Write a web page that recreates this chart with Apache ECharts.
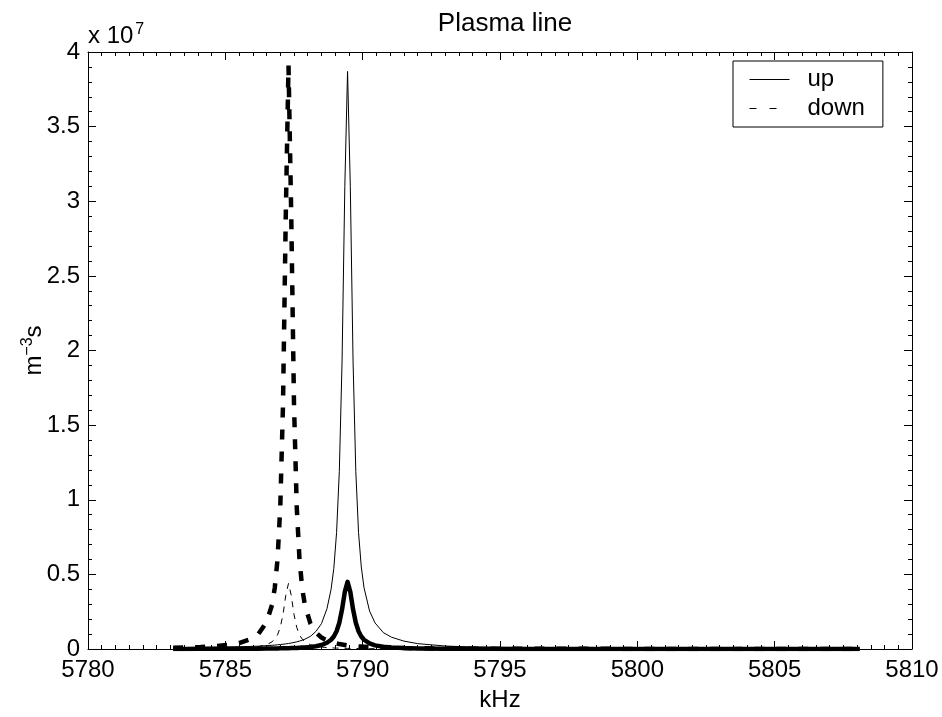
<!DOCTYPE html>
<html>
<head>
<meta charset="utf-8">
<script src="https://cdn.jsdelivr.net/npm/echarts@6/dist/echarts.min.js"></script>
<style>
html,body{margin:0;padding:0;background:#fff;}
#chart{width:942px;height:717px;}
</style>
</head>
<body>
<div id="chart"></div>
<script>
// frequency grid (kHz)
const freq = [5783.1,5783.6,5784.1,5784.6,5785.1,5785.5,5785.9,5786.2,5786.5,5786.7,
  5786.8,5786.9,5787.0,5787.1,5787.2,5787.3,5787.4,5787.5,5787.6,5787.7,
  5787.8,5787.9,5788.1,5788.3,5788.5,5788.7,5788.85,5788.95,5789.05,5789.15,
  5789.25,5789.35,5789.45,5789.55,5789.65,5789.75,5789.85,5789.95,5790.05,5790.25,
  5790.45,5790.75,5791.05,5791.5,5792.0,5793.0,5794.0,5796.0,5798.0,5800.0,
  5803.0,5806.0,5808.1];

// values in units of 1e7 m^-3 s
const upThin = [0.008,0.009,0.010,0.011,0.013,0.015,0.017,0.019,0.022,0.025,
  0.026,0.028,0.030,0.032,0.034,0.037,0.040,0.044,0.048,0.053,
  0.059,0.066,0.085,0.118,0.17,0.27,0.40,0.54,0.78,1.19,
  1.93,3.10,3.87,3.10,1.93,1.19,0.78,0.55,0.41,0.255,
  0.175,0.11,0.079,0.053,0.036,0.020,0.013,0.007,0.004,0.003,
  0.002,0.0015,0.001];

const downThin = [0.0011,0.0014,0.0019,0.0027,0.004,0.0059,0.0097,0.0155,0.028,0.048,
  0.066,0.095,0.145,0.231,0.359,0.44,0.359,0.231,0.145,0.095,
  0.066,0.048,0.028,0.0186,0.0131,0.0097,0.0079,0.007,0.0062,0.0056,
  0.005,0.0046,0.0042,0.0038,0.0035,0.0032,0.003,0.0028,0.0026,0.0022,
  0.0019,0.0016,0.0014,0.0011,0.0009,0.0006,0.0004,0.0003,0.0002,0.0002,
  0.0001,0.0001,0.0001];

const downThick = [0.008,0.010,0.013,0.018,0.028,0.040,0.065,0.100,0.180,0.295,
  0.41,0.60,0.95,1.64,2.90,3.91,2.90,1.64,0.95,0.60,
  0.405,0.29,0.17,0.11,0.077,0.057,0.047,0.041,0.037,0.033,
  0.030,0.027,0.024,0.022,0.020,0.019,0.017,0.016,0.015,0.013,
  0.011,0.0095,0.008,0.0064,0.0051,0.0035,0.0025,0.0015,0.001,0.0007,
  0.0005,0.0003,0.0003];

const upThick = [0.0006,0.0008,0.0009,0.0011,0.0014,0.0017,0.002,0.0024,0.003,0.0034,
  0.0037,0.004,0.0043,0.0046,0.0051,0.0055,0.0061,0.0067,0.0074,0.0083,
  0.0093,0.0105,0.0138,0.0188,0.027,0.042,0.062,0.084,0.119,0.176,
  0.266,0.383,0.45,0.383,0.266,0.176,0.119,0.084,0.062,0.037,
  0.0245,0.0149,0.0099,0.0061,0.004,0.002,0.0013,0.0006,0.0004,0.0002,
  0.0001,0.0001,0.0001];

const legendNames = ['up', 'down'];
const titleText = 'Plasma line';
const xName = 'kHz';
const yScaleText = '{a|x 10}{s|7}';
const yNameText = '{a|m}{s|\u22123}{a|s}';

const FONT = '"Liberation Sans", Arial, Helvetica, sans-serif';
const FS = 24;
const pairs = arr => freq.map((f, i) => [f, arr[i]]);

const chart = echarts.init(document.getElementById('chart'), null, {renderer: 'canvas'});

const axisCommon = {
  axisLine: {show: true, onZero: false, lineStyle: {color: '#000', width: 1}},
  axisTick: {show: true, inside: true, length: 8, lineStyle: {color: '#000', width: 1}},
  splitLine: {show: false}
};

const option = {
  animation: false,
  backgroundColor: '#fff',
  title: {
    text: titleText, left: 500, top: 6, textAlign: 'center',
    textStyle: {fontSize: 26, fontWeight: 'normal', color: '#000', fontFamily: FONT}
  },
  grid: {left: 88, right: 30, top: 52, bottom: 60, show: false},
  legend: {
    data: [
      {name: legendNames[0], lineStyle: {type: 'solid', width: 1}},
      {name: legendNames[1], lineStyle: {type: [7, 13], width: 1}}
    ],
    orient: 'vertical', left: 733, top: 61,
    padding: [6, 18, 6, 16], itemGap: 4,
    itemWidth: 40, itemHeight: 14,
    borderColor: '#000', borderWidth: 1, borderRadius: 0,
    backgroundColor: '#fff',
    itemStyle: {opacity: 0, borderWidth: 0},
    lineStyle: {width: 1},
    textStyle: {fontSize: FS, color: '#000', fontFamily: FONT, padding: [0, 0, 0, 13], lineHeight: 25}
  },
  xAxis: [
    Object.assign({}, axisCommon, {
      type: 'value', min: 5780, max: 5810, interval: 5, position: 'bottom',
      minorTick: {show: true, splitNumber: 10, length: 4, lineStyle: {color: '#000', width: 1}},
      axisLabel: {color: '#000', fontSize: FS, fontFamily: FONT, margin: 9, formatter: v => String(v)},
      name: xName, nameLocation: 'middle', nameGap: 39,
      nameTextStyle: {color: '#000', fontSize: FS, fontFamily: FONT}
    }),
    Object.assign({}, axisCommon, {
      type: 'value', min: 5780, max: 5810, interval: 5, position: 'top',
      minorTick: {show: true, splitNumber: 10, length: 4, lineStyle: {color: '#000', width: 1}},
      axisLabel: {show: false}
    })
  ],
  yAxis: [
    Object.assign({}, axisCommon, {
      type: 'value', min: 0, max: 4, interval: 0.5, position: 'left',
      minorTick: {show: true, splitNumber: 5, length: 4, lineStyle: {color: '#000', width: 1}},
      axisLabel: {color: '#000', fontSize: FS, fontFamily: FONT, margin: 8},
      name: yNameText, nameLocation: 'middle', nameGap: 40, nameRotate: 90,
      nameMoveOverlap: false,
      nameTextStyle: {
        color: '#000', fontFamily: FONT,
        rich: {
          a: {fontSize: FS, fontFamily: FONT, color: '#000'},
          s: {fontSize: 16, fontFamily: FONT, color: '#000', verticalAlign: 'top', padding: [0, 0, 12, 0]}
        }
      }
    }),
    Object.assign({}, axisCommon, {
      type: 'value', min: 0, max: 4, interval: 0.5, position: 'right',
      minorTick: {show: true, splitNumber: 5, length: 4, lineStyle: {color: '#000', width: 1}},
      axisLabel: {show: false}
    })
  ],
  graphic: [{
    type: 'text', left: 88, top: 22, silent: true,
    style: {
      text: yScaleText,
      rich: {
        a: {fontSize: FS, fontFamily: FONT, fill: '#000'},
        s: {fontSize: 16, fontFamily: FONT, fill: '#000', verticalAlign: 'top', padding: [0, 0, 12, 2]}
      }
    }
  }],
  series: [
    {name: 'up', type: 'line', data: pairs(upThin), symbol: 'none', xAxisIndex: 0, yAxisIndex: 0,
      lineStyle: {color: '#000', width: 1, type: 'solid'}, itemStyle: {color: '#000'}, z: 3},
    {name: 'down', type: 'line', data: pairs(downThin), symbol: 'none', xAxisIndex: 0, yAxisIndex: 0,
      lineStyle: {color: '#000', width: 1, type: [6, 6]}, itemStyle: {color: '#000'}, z: 3},
    {name: 'up (thick)', type: 'line', data: pairs(upThick), symbol: 'none', xAxisIndex: 0, yAxisIndex: 0,
      lineStyle: {color: '#000', width: 4.5, type: 'solid', join: 'round'}, itemStyle: {color: '#000'}, z: 3},
    {name: 'down (thick)', type: 'line', data: pairs(downThick), symbol: 'none', xAxisIndex: 0, yAxisIndex: 0,
      lineStyle: {color: '#000', width: 4.5, type: [10, 12], cap: 'butt'}, itemStyle: {color: '#000'}, z: 3}
  ]
};
chart.setOption(option);
</script>
</body>
</html>
